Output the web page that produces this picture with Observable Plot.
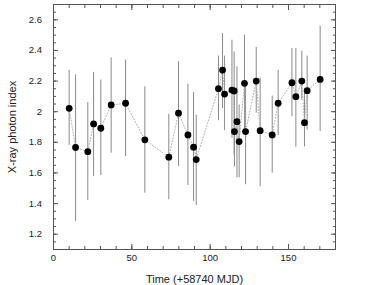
<!DOCTYPE html>
<html>
<head>
<meta charset="utf-8">
<script src="https://cdn.jsdelivr.net/npm/d3@7"></script>
<script src="https://cdn.jsdelivr.net/npm/@observablehq/plot@0.6"></script>
<style>
  html, body { margin: 0; padding: 0; background: #fff; }
  #chart svg { display: block; font-family: "Liberation Sans", Arial, Helvetica, sans-serif; }
</style>
</head>
<body>
<div id="chart"></div>
<script>
// Time (days since MJD 58740)
const time = [10.0, 14.1, 21.9, 25.6, 30.2, 36.8, 46.0, 58.3, 73.6, 79.8, 85.8, 89.4, 91.1,
  105.3, 107.9, 109.2, 113.9, 115.3, 115.5, 117.1, 118.5, 121.9, 122.6, 129.4, 131.9,
  139.6, 143.4, 152.2, 154.7, 158.5, 160.2, 161.9, 170.2];
// X-ray photon index
const photonIndex = [2.022, 1.766, 1.739, 1.92, 1.892, 2.044, 2.055, 1.816, 1.703, 1.99, 1.848, 1.768, 1.687,
  2.15, 2.272, 2.115, 2.141, 2.135, 1.870, 1.935, 1.805, 2.185, 1.870, 2.2, 1.876,
  1.848, 2.055, 2.189, 2.098, 2.2, 1.928, 2.137, 2.211];
// Error bar upper and lower bounds
const upper = [2.27, 2.24, 2.06, 2.257, 2.207, 2.352, 2.337, 2.163, 1.983, 2.326, 2.18, 2.124, 1.978,
  2.363, 2.51, 2.363, 2.467, 2.39, 2.10, 2.293, 2.044, 2.5, 2.2, 2.42, 2.218,
  2.102, 2.27, 2.413, 2.413, 2.395, 2.12, 2.363, 2.558];
const lower = [1.78, 1.283, 1.42, 1.577, 1.583, 1.729, 1.707, 1.468, 1.425, 1.642, 1.518, 1.414, 1.386,
  1.941, 2.02, 1.876, 1.827, 1.718, 1.64, 1.568, 1.568, 1.87, 1.523, 1.99, 1.511,
  1.599, 1.844, 1.967, 1.768, 2.076, 1.77, 1.88, 1.87];

const xMajor = [0, 50, 100, 150];
const xMinor = [0, 10, 20, 30, 40, 50, 60, 70, 80, 90, 100, 110, 120, 130, 140, 150, 160, 170, 180];
const yMajor = [1.2, 1.4, 1.6, 1.8, 2.0, 2.2, 2.4, 2.6];
const yMinor = [1.1, 1.15, 1.2, 1.25, 1.3, 1.35, 1.4, 1.45, 1.5, 1.55, 1.6, 1.65, 1.7, 1.75, 1.8, 1.85,
  1.9, 1.95, 2.0, 2.05, 2.1, 2.15, 2.2, 2.25, 2.3, 2.35, 2.4, 2.45, 2.5, 2.55, 2.6, 2.65, 2.7];
const xLabel = "Time (+58740 MJD)";
const yLabel = "X-ray photon index";

const data = time.map((t, i) => ({t, v: photonIndex[i], hi: upper[i], lo: lower[i]}));
const blank = () => "";
const yFmt = d => (Math.abs(d - 2) < 1e-9 ? "2" : d3.format(".1f")(d));

const chart = Plot.plot({
  width: 379,
  height: 285,
  marginLeft: 53,
  marginRight: 44,
  marginTop: 4,
  marginBottom: 36,
  style: {fontSize: "9.5px", color: "#222", fontFamily: "'Liberation Sans', Arial, sans-serif"},
  x: {domain: [0, 180]},
  y: {domain: [1.1, 2.7]},
  marks: [
    Plot.ruleX(data, {x: "t", y1: "lo", y2: "hi", stroke: "#8a8a8a", strokeWidth: 1}),
    Plot.line(data, {x: "t", y: "v", stroke: "#b0b0b0", strokeWidth: 1, strokeDasharray: "1,2"}),
    Plot.dot(data, {x: "t", y: "v", r: 3.4, fill: "#000", stroke: "none"}),
    Plot.frame({stroke: "#555", strokeWidth: 1}),
    // bottom axis
    Plot.axisX(xMajor, {anchor: "bottom", tickSize: -5, tickPadding: 10, stroke: "#555",
      label: xLabel, labelAnchor: "center", labelOffset: 33, labelArrow: "none"}),
    Plot.axisX(xMinor, {anchor: "bottom", tickSize: -3, tickFormat: blank, label: null, stroke: "#555"}),
    // top axis (ticks only)
    Plot.axisX(xMajor, {anchor: "top", tickSize: -5, tickFormat: blank, label: null, stroke: "#555"}),
    Plot.axisX(xMinor, {anchor: "top", tickSize: -3, tickFormat: blank, label: null, stroke: "#555"}),
    // left axis
    Plot.axisY(yMajor, {anchor: "left", tickSize: -5, tickPadding: 16.5, tickFormat: yFmt, stroke: "#555",
      label: yLabel, labelAnchor: "center", labelOffset: 45, labelArrow: "none"}),
    Plot.axisY(yMinor, {anchor: "left", tickSize: -3, tickFormat: blank, label: null, stroke: "#555"}),
    // right axis (ticks only)
    Plot.axisY(yMajor, {anchor: "right", tickSize: -5, tickFormat: blank, label: null, stroke: "#555"}),
    Plot.axisY(yMinor, {anchor: "right", tickSize: -3, tickFormat: blank, label: null, stroke: "#555"})
  ]
});

// larger font for the axis titles
chart.querySelectorAll("text").forEach(t => {
  const s = t.textContent.trim();
  if (s === xLabel || s === yLabel) t.style.fontSize = "11px";
});
document.getElementById("chart").appendChild(chart);
</script>
</body>
</html>
